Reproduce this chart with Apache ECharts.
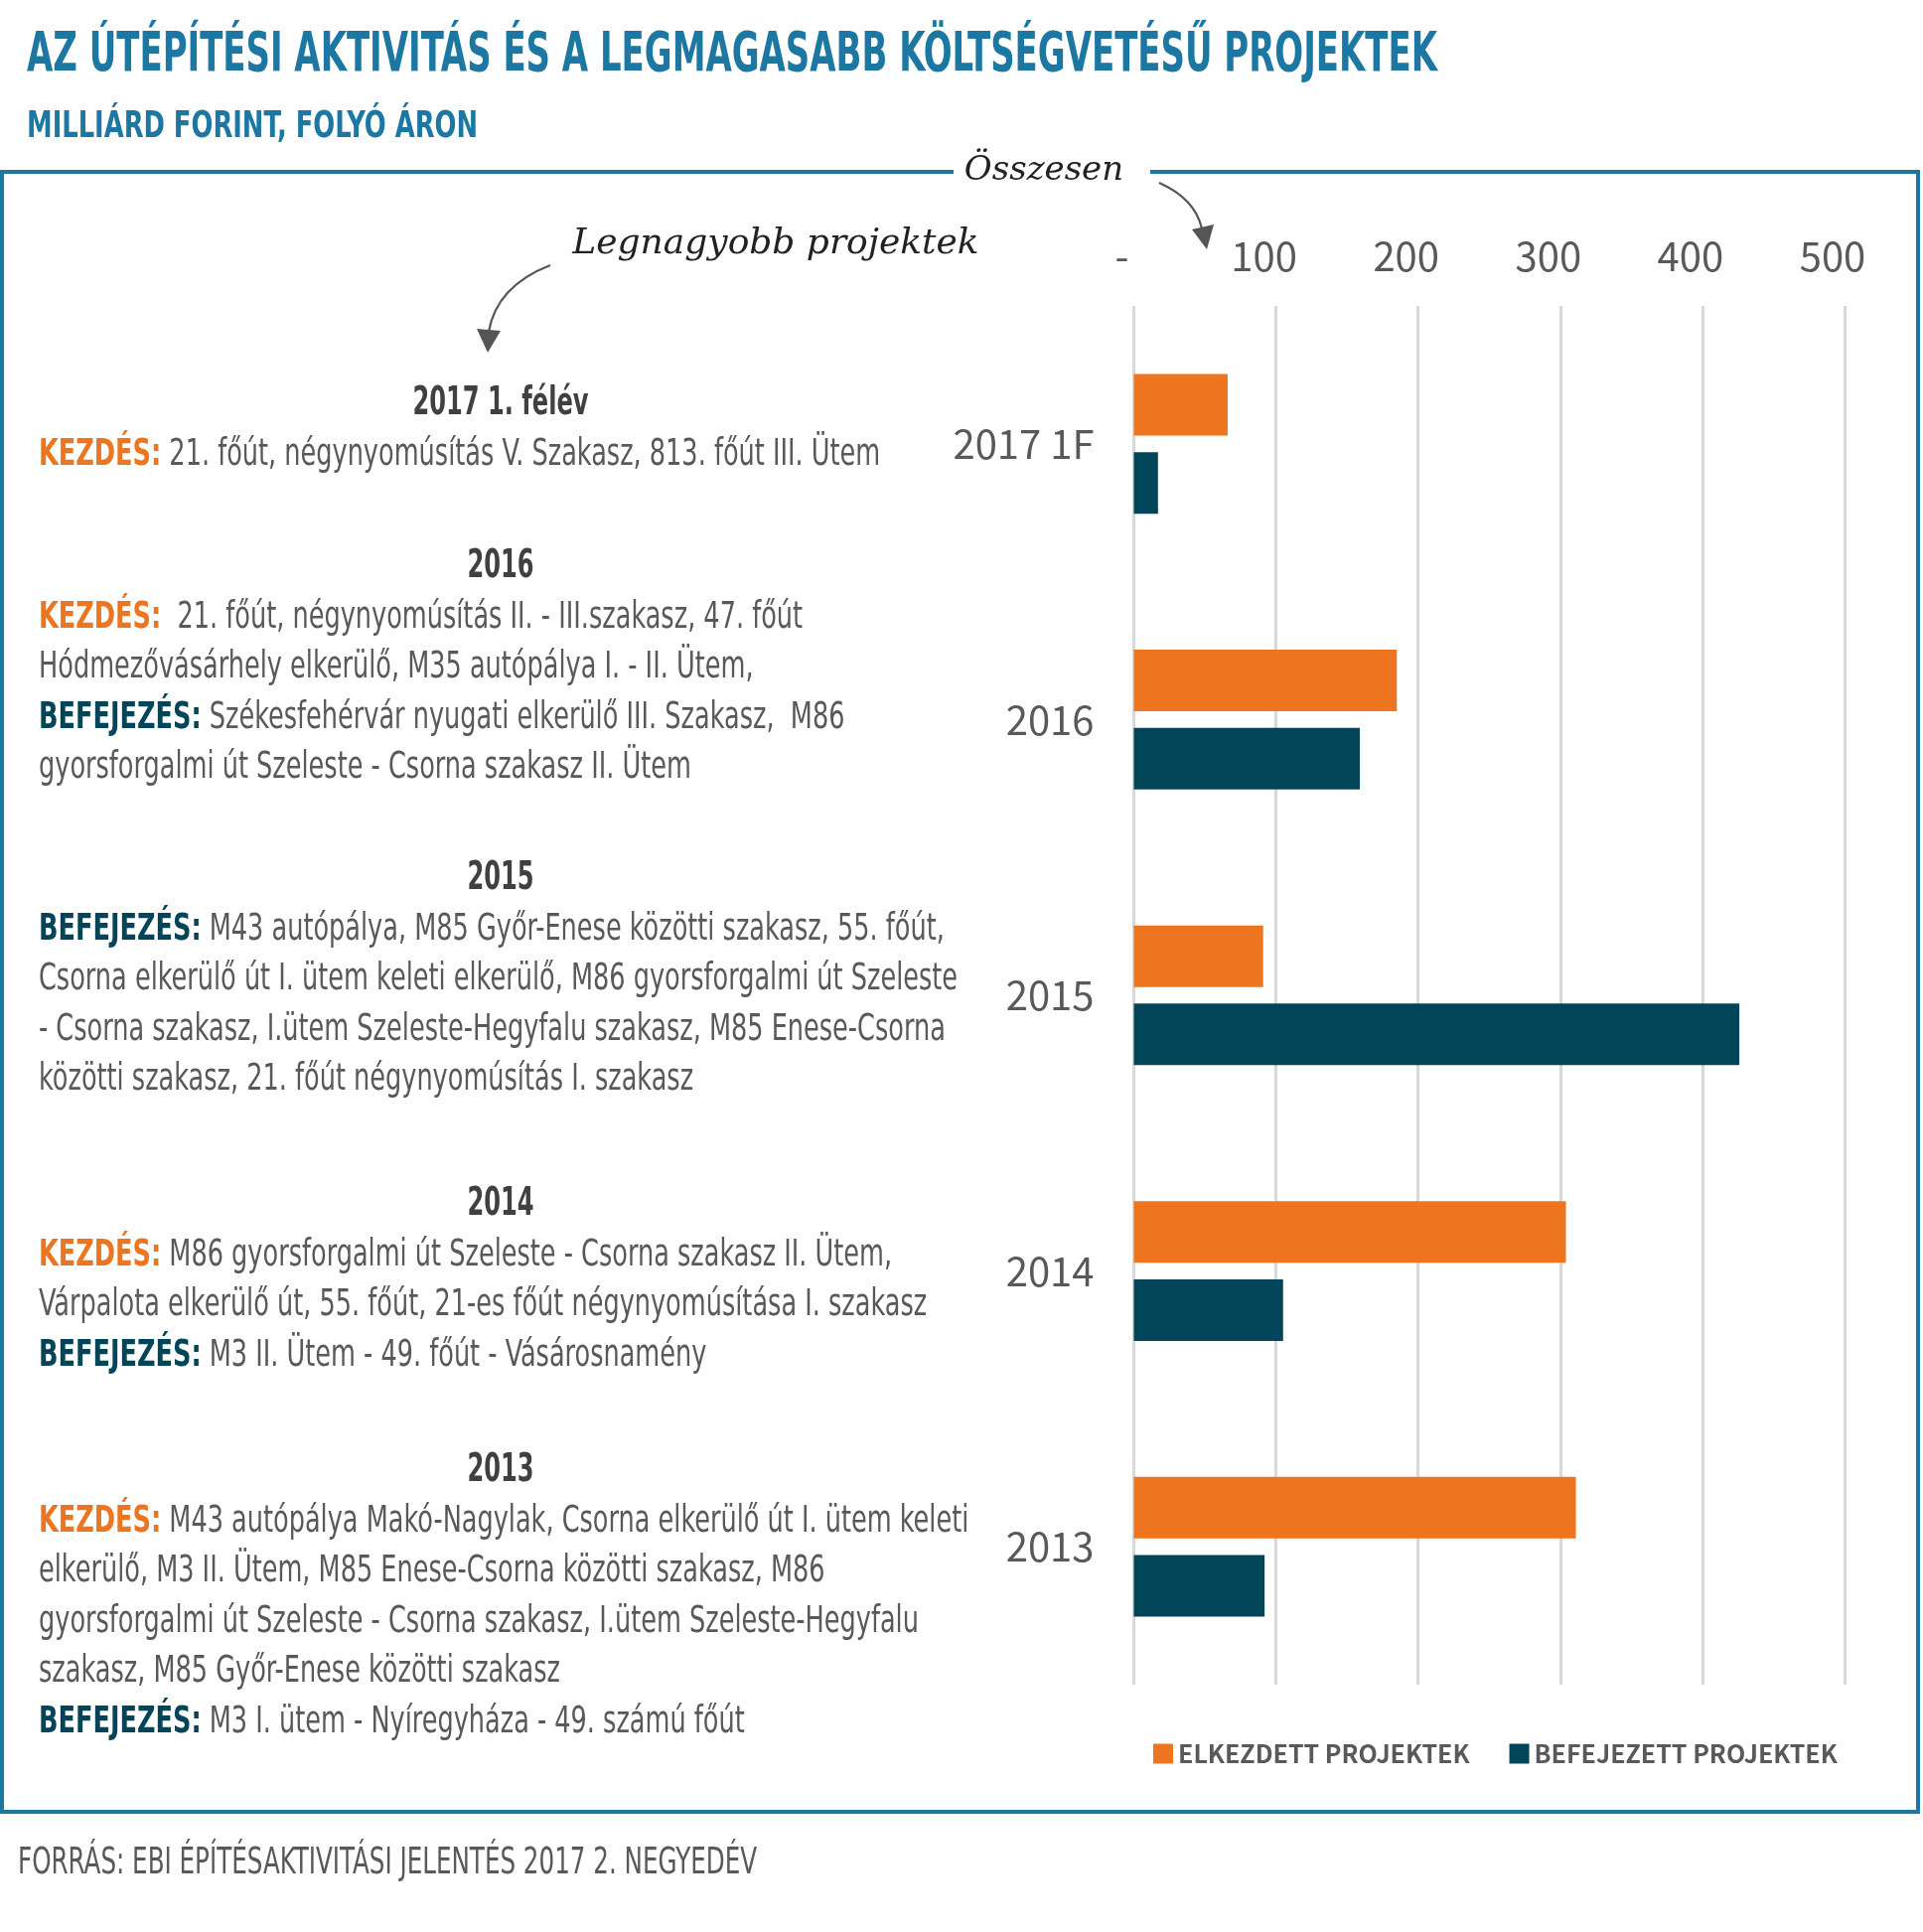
<!DOCTYPE html>
<html><head><meta charset="utf-8">
<script src="https://cdn.jsdelivr.net/npm/echarts@6/dist/echarts.min.js"></script>
<style>html,body{margin:0;padding:0;background:#fff}#c{width:1936px;height:1945px}</style>
</head><body><div id="c"></div>
<script>
// ---------- DATA ----------
const categories = ['2017 1F', '2016', '2015', '2014', '2013'];
const startedValues = [66, 185, 91, 304, 311];   // ELKEZDETT PROJEKTEK
const finishedValues = [17, 159, 426, 105, 92];  // BEFEJEZETT PROJEKTEK
const tickLabels = ['-', '100', '200', '300', '400', '500'];
const seriesNames = ['ELKEZDETT PROJEKTEK', 'BEFEJEZETT PROJEKTEK'];

const titleText = 'AZ ÚTÉPÍTÉSI AKTIVITÁS ÉS A LEGMAGASABB KÖLTSÉGVETÉSŰ PROJEKTEK';
const subtitleText = 'MILLIÁRD FORINT, FOLYÓ ÁRON';
const sourceText = 'FORRÁS: EBI ÉPÍTÉSAKTIVITÁSI JELENTÉS 2017 2. NEGYEDÉV';
const noteTotal = 'Összesen';
const noteProjects = 'Legnagyobb projektek';

const noteHeads = ['2017 1. félév', '2016', '2015', '2014', '2013'];
const noteLines = [
  [['k', 'KEZDÉS:', ' 21. főút, négynyomúsítás V. Szakasz, 813. főút III. Ütem']],
  [['k', 'KEZDÉS:', '  21. főút, négynyomúsítás II. - III.szakasz, 47. főút'],
   ['', '', 'Hódmezővásárhely elkerülő, M35 autópálya I. - II. Ütem,'],
   ['b', 'BEFEJEZÉS:', ' Székesfehérvár nyugati elkerülő III. Szakasz,  M86'],
   ['', '', 'gyorsforgalmi út Szeleste - Csorna szakasz II. Ütem']],
  [['b', 'BEFEJEZÉS:', ' M43 autópálya, M85 Győr-Enese közötti szakasz, 55. főút,'],
   ['', '', 'Csorna elkerülő út I. ütem keleti elkerülő, M86 gyorsforgalmi út Szeleste'],
   ['', '', '- Csorna szakasz, I.ütem Szeleste-Hegyfalu szakasz, M85 Enese-Csorna'],
   ['', '', 'közötti szakasz, 21. főút négynyomúsítás I. szakasz']],
  [['k', 'KEZDÉS:', ' M86 gyorsforgalmi út Szeleste - Csorna szakasz II. Ütem,'],
   ['', '', 'Várpalota elkerülő út, 55. főút, 21-es főút négynyomúsítása I. szakasz'],
   ['b', 'BEFEJEZÉS:', ' M3 II. Ütem - 49. főút - Vásárosnamény']],
  [['k', 'KEZDÉS:', ' M43 autópálya Makó-Nagylak, Csorna elkerülő út I. ütem keleti'],
   ['', '', 'elkerülő, M3 II. Ütem, M85 Enese-Csorna közötti szakasz, M86'],
   ['', '', 'gyorsforgalmi út Szeleste - Csorna szakasz, I.ütem Szeleste-Hegyfalu'],
   ['', '', 'szakasz, M85 Győr-Enese közötti szakasz'],
   ['b', 'BEFEJEZÉS:', ' M3 I. ütem - Nyíregyháza - 49. számú főút']]
];

// ---------- STYLE / LAYOUT ----------
const FAM = "'DejaVu Sans Condensed','Liberation Sans Narrow','Roboto',sans-serif";
const NARROW = "'Noto Sans CJK SC','Noto Sans',sans-serif";
const HAND = "'DejaVu Serif',serif";
const ORANGE = '#ED7520', TEAL = '#034558', BLUE = '#1C78A3', GRAY = '#58595B', DARK = '#404040';
const headY = [407, 571, 885, 1213, 1481];

const cv = document.createElement('canvas').getContext('2d');
function tw(font, s) { cv.font = font; return cv.measureText(s).width; }
const BODY = 37, HEAD = 39;
const bodyFont = BODY + 'px ' + FAM;
const boldBody = 'bold ' + BODY + 'px ' + FAM;
const headFont = 'bold ' + HEAD + 'px ' + FAM;
const bodyScale = 719.5 / tw(bodyFont, 'Hódmezővásárhely elkerülő, M35 autópálya I. - II. Ütem,');
const headScale = 177 / tw(headFont, '2017 1. félév');
const titleFont = 'bold 56px ' + FAM;
const titleScale = 1420 / tw(titleFont, titleText);
const subFont = 'bold 38px ' + FAM;
const subScale = 454 / tw(subFont, subtitleText);
const srcFont = '37px ' + FAM;
const srcScale = 744 / tw(srcFont, sourceText);

const graphics = [];
function txt(x, y, text, font, fill, scale, align, rich) {
  graphics.push({ type: 'text', x: x, y: y, scaleX: scale, silent: true,
    style: { text: text, font: font, fill: fill, align: align || 'left', verticalAlign: 'middle', rich: rich } });
}
txt(27, 56, titleText, titleFont, BLUE, titleScale);
txt(27, 128, subtitleText, subFont, BLUE, subScale);
txt(18, 1876, sourceText, srcFont, GRAY, srcScale);

const rich = {
  k: { fill: ORANGE, font: boldBody, verticalAlign: 'middle' },
  b: { fill: TEAL, font: boldBody, verticalAlign: 'middle' },
  t: { fill: GRAY, font: bodyFont, verticalAlign: 'middle' }
};
noteHeads.forEach(function (h, i) {
  txt(504, headY[i], h, headFont, DARK, headScale, 'center');
  noteLines[i].forEach(function (ln, j) {
    const y = headY[i] + 51 + j * 50.6;
    const s = (ln[0] ? '{' + ln[0] + '|' + ln[1] + '}' : '') + '{t|' + ln[2] + '}';
    txt(39, y, s, bodyFont, GRAY, bodyScale, 'left', rich);
  });
});

// frame
const LW = 4;
function line(x1, y1, x2, y2) {
  graphics.push({ type: 'line', silent: true, shape: { x1: x1, y1: y1, x2: x2, y2: y2 }, style: { stroke: BLUE, lineWidth: LW } });
}
line(0, 173, 960, 173);
line(1158, 173, 1933, 173);
line(2, 173, 2, 1824);
line(1931, 173, 1931, 1826);
line(0, 1824, 1933, 1824);

// handwritten notes and arrows
graphics.push({ type: 'text', x: 1051, y: 172, silent: true,
  style: { text: noteTotal, font: 'italic 34px ' + HAND, fill: '#222', align: 'center', verticalAlign: 'middle' } });
graphics.push({ type: 'text', x: 781, y: 246, silent: true,
  style: { text: noteProjects, font: 'italic 36px ' + HAND, fill: '#222', align: 'center', verticalAlign: 'middle' } });
graphics.push({ type: 'bezierCurve', silent: true,
  shape: { x1: 1167, y1: 184, cpx1: 1203, cpy1: 200, x2: 1210, y2: 230 },
  style: { stroke: '#555', lineWidth: 2.2, fill: null } });
graphics.push({ type: 'polygon', silent: true,
  shape: { points: [[1215, 251], [1200, 231], [1222, 226]] }, style: { fill: '#555' } });
graphics.push({ type: 'bezierCurve', silent: true,
  shape: { x1: 554, y1: 267, cpx1: 500, cpy1: 288, x2: 492, y2: 334 },
  style: { stroke: '#555', lineWidth: 2.2, fill: null } });
graphics.push({ type: 'polygon', silent: true,
  shape: { points: [[491, 355], [480, 331], [504, 333]] }, style: { fill: '#555' } });

const chart = echarts.init(document.getElementById('c'), null, { renderer: 'canvas' });
chart.setOption({
  animation: false,
  backgroundColor: '#fff',
  grid: { left: 1141.5, right: 79, top: 308, bottom: 249, containLabel: false },
  xAxis: {
    type: 'value', position: 'top', min: 0, max: 500, interval: 100,
    axisLine: { show: false }, axisTick: { show: false },
    splitLine: { show: true, lineStyle: { color: '#D9D9D9', width: 3 } },
    axisLabel: {
      formatter: function (v) { return tickLabels[Math.round(v / 100)]; },
      color: '#595959', fontFamily: NARROW, fontSize: 40, margin: 30, padding: [0, 24, 0, 0]
    }
  },
  yAxis: {
    type: 'category', data: categories, inverse: true,
    axisLine: { show: false }, axisTick: { show: false }, splitLine: { show: false },
    axisLabel: { color: '#595959', fontFamily: NARROW, fontSize: 40, margin: 40 }
  },
  legend: {
    data: seriesNames, left: 1156, top: 1748, width: 775, icon: 'rect', itemWidth: 20, itemHeight: 20, itemGap: 40,
    textStyle: { fontFamily: NARROW, fontWeight: 'bold', fontSize: 25, color: '#595959' }
  },
  series: [
    { name: seriesNames[0], type: 'bar', data: startedValues, barWidth: 62, barGap: '27%',
      itemStyle: { color: ORANGE } },
    { name: seriesNames[1], type: 'bar', data: finishedValues, barWidth: 62, barGap: '27%',
      itemStyle: { color: TEAL } }
  ],
  graphic: graphics
});
</script></body></html>
